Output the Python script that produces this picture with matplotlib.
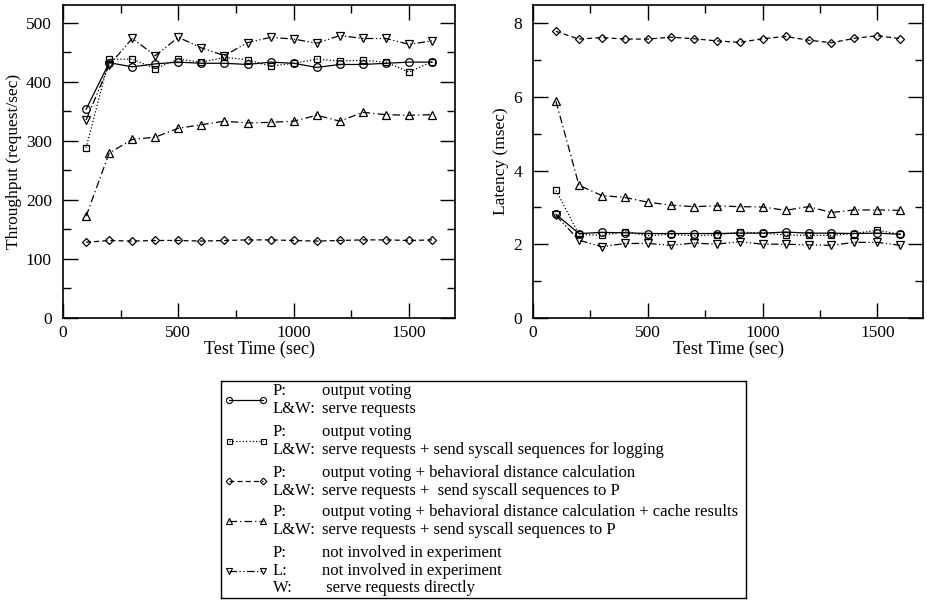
import numpy as np
import matplotlib
matplotlib.use('Agg')
import matplotlib.pyplot as plt
from matplotlib.lines import Line2D
from matplotlib.ticker import MultipleLocator

plt.rcParams['font.family'] = ['Liberation Serif', 'DejaVu Serif']

test_time = [100, 200, 300, 400, 500, 600, 700, 800, 900, 1000, 1100, 1200, 1300, 1400, 1500, 1600]

# throughput (request/sec)
thr_vote = [353, 432, 425, 430, 433, 431, 431, 429, 433, 431, 424, 429, 429, 431, 433, 433]
thr_log = [288, 438, 438, 422, 438, 433, 441, 437, 426, 431, 438, 435, 436, 433, 416, 434]
thr_dist = [128, 131, 130, 131, 131, 130, 131, 132, 132, 131, 130, 131, 132, 132, 131, 132]
thr_cache = [172, 279, 302, 306, 321, 327, 333, 330, 331, 333, 343, 333, 348, 344, 343, 344]
thr_direct = [335, 428, 473, 444, 475, 457, 444, 466, 475, 472, 465, 478, 473, 473, 463, 469]

# latency (msec)
lat_vote = [2.81, 2.29, 2.32, 2.31, 2.29, 2.29, 2.29, 2.29, 2.30, 2.30, 2.33, 2.30, 2.30, 2.29, 2.30, 2.27]
lat_log = [3.46, 2.27, 2.24, 2.34, 2.23, 2.27, 2.23, 2.25, 2.33, 2.30, 2.25, 2.24, 2.24, 2.29, 2.38, 2.27]
lat_dist = [7.78, 7.57, 7.61, 7.57, 7.57, 7.62, 7.58, 7.52, 7.48, 7.58, 7.64, 7.54, 7.47, 7.59, 7.66, 7.58]
lat_cache = [5.88, 3.60, 3.32, 3.27, 3.14, 3.06, 3.02, 3.04, 3.02, 3.01, 2.92, 3.02, 2.86, 2.93, 2.93, 2.92]
lat_direct = [2.78, 2.11, 1.93, 2.02, 2.02, 1.97, 2.03, 2.00, 2.07, 2.00, 2.00, 1.98, 1.97, 2.05, 2.05, 1.97]

styles = [
    dict(marker='o', linestyle='-'),
    dict(marker='s', linestyle=':'),
    dict(marker='D', linestyle=(0, (4, 2.5))),
    dict(marker='^', linestyle=(0, (6, 2.5, 1, 2.5))),
    dict(marker='v', linestyle=(0, (6, 2, 1, 2, 1, 2))),
]
msizes = [5.5, 4.5, 4.3, 6, 6]

legend_rows = [
    [('P:', 'output voting'), ('L&W:', 'serve requests')],
    [('P:', 'output voting'), ('L&W:', 'serve requests + send syscall sequences for logging')],
    [('P:', 'output voting + behavioral distance calculation'),
     ('L&W:', 'serve requests +  send syscall sequences to P')],
    [('P:', 'output voting + behavioral distance calculation + cache results'),
     ('L&W:', 'serve requests + send syscall sequences to P')],
    [('P:', 'not involved in experiment'), ('L:', 'not involved in experiment'),
     ('W:', ' serve requests directly')],
]

fig = plt.figure(figsize=(9.27, 6.02), dpi=100)
ax1 = fig.add_axes([0.068, 0.472, 0.423, 0.520])
ax2 = fig.add_axes([0.575, 0.472, 0.421, 0.520])


def style_axes(ax):
    ax.tick_params(which='both', direction='in', top=True, right=True, labelsize=12.5)
    ax.tick_params(which='major', length=11, width=1)
    ax.tick_params(which='minor', length=5.5, width=1)
    ax.tick_params(axis='y', which='major', pad=8)
    ax.tick_params(axis='x', which='major', pad=5)
    for s in ax.spines.values():
        s.set_linewidth(1.2)
    ax.xaxis.set_major_locator(MultipleLocator(500))
    ax.xaxis.set_minor_locator(MultipleLocator(250))
    ax.set_xlim(0, 1700)
    ax.set_xlabel('Test Time (sec)', fontsize=13, labelpad=0)


for ys, st, ms in zip([thr_vote, thr_log, thr_dist, thr_cache, thr_direct], styles, msizes):
    ax1.plot(test_time, ys, color='black', lw=0.9, markersize=ms, markerfacecolor='none',
             markeredgewidth=0.9, **st)
ax1.set_ylim(0, 530)
ax1.yaxis.set_major_locator(MultipleLocator(100))
ax1.yaxis.set_minor_locator(MultipleLocator(50))
ax1.set_ylabel('Throughput (request/sec)', fontsize=12.5, labelpad=3)
style_axes(ax1)

for ys, st, ms in zip([lat_vote, lat_log, lat_dist, lat_cache, lat_direct], styles, msizes):
    ax2.plot(test_time, ys, color='black', lw=0.9, markersize=ms, markerfacecolor='none',
             markeredgewidth=0.9, **st)
ax2.set_ylim(0, 8.5)
ax2.yaxis.set_major_locator(MultipleLocator(2))
ax2.yaxis.set_minor_locator(MultipleLocator(1))
ax2.set_ylabel('Latency (msec)', fontsize=12.5, labelpad=3)
style_axes(ax2)

# legend box drawn by hand, in pixel units of the box
axl = fig.add_axes([0.2384, 0.0066, 0.5664, 0.3605])
axl.set_xlim(0, 525)
axl.set_ylim(217, 0)
axl.set_xticks([])
axl.set_yticks([])
for s in axl.spines.values():
    s.set_linewidth(1.0)

row_top = [10, 51, 92, 131, 172]
sample_y = [19, 60, 100, 140, 190]
for rows, top, sy, st, ms in zip(legend_rows, row_top, sample_y, styles, msizes):
    axl.add_line(Line2D([8, 42], [sy, sy], color='black', lw=0.9, markersize=ms * 0.8,
                        markerfacecolor='none', markeredgewidth=0.8, **st))
    for i, (key, txt) in enumerate(rows):
        y = top + 17.5 * i
        axl.text(52, y, key, fontsize=12, va='center', ha='left')
        axl.text(101, y, txt, fontsize=12, va='center', ha='left')

fig.savefig('out.png', dpi=100)
